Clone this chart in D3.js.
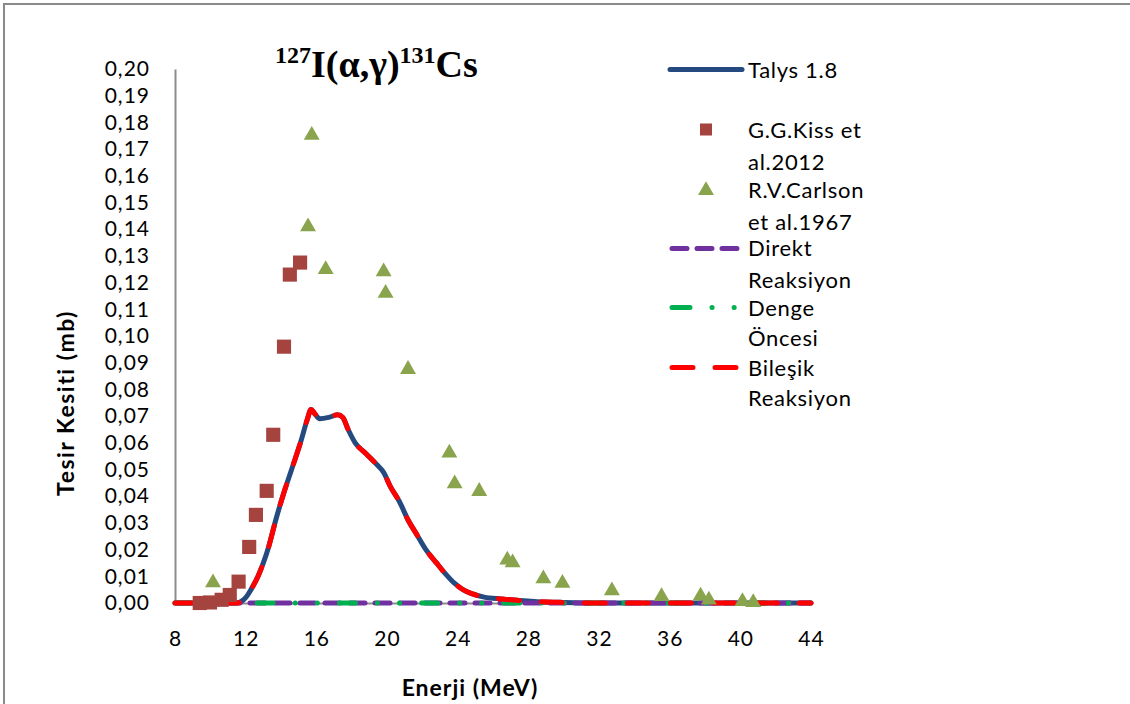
<!DOCTYPE html>
<html>
<head>
<meta charset="utf-8">
<script src="https://cdn.jsdelivr.net/npm/d3@7"></script>
<style>
  body { margin: 0; background: #fff; }
  text { font-family: Lato, "Open Sans", sans-serif; fill: #000; }
</style>
</head>
<body>
<script>
var w = 1130, h = 704;

// Talys 1.8 total cross-section
var talysE = [8, 9, 10, 11, 11.5, 11.8, 12.0, 12.3, 12.7, 13.0, 13.3, 13.7, 14.1, 14.6, 15.1, 15.5, 15.7,
  15.9, 16.2, 16.7, 17.2, 17.5, 17.8, 18.2, 18.8, 19.4, 19.8, 20.2, 20.7, 21.2, 21.7, 22.2, 22.8,
  23.3, 23.8, 24.3, 24.8, 25.5, 26.5, 27.5, 28.5, 30, 32, 36, 40, 44];
var talysS = [0, 0, 0, 0, 0, 0.0008, 0.002, 0.005, 0.010, 0.015, 0.021, 0.031, 0.040, 0.050, 0.060, 0.069, 0.0725,
  0.071, 0.069, 0.0695, 0.0705, 0.0695, 0.065, 0.060, 0.056, 0.052, 0.049, 0.0435, 0.038, 0.031, 0.0255, 0.020, 0.015,
  0.011, 0.0075, 0.005, 0.0035, 0.0022, 0.0015, 0.0009, 0.0005, 0.0002, 0, 0, 0, 0];

// Bileşik reaksiyon follows the Talys curve
var bilesikE = talysE;
var bilesikS = talysS;

var direktE = [8, 12, 16, 20, 24, 28, 32, 36, 40, 44];
var direktS = [0, 0, 0, 0, 0, 0, 0, 0, 0, 0];
var dengeE = [8, 12, 16, 20, 24, 28, 32, 36, 40, 44];
var dengeS = [0, 0, 0, 0, 0, 0, 0, 0, 0, 0];

// G.G.Kiss et al. 2012
var kissE = [9.4, 9.98, 10.64, 11.1, 11.6, 12.2, 12.58, 13.19, 13.56, 14.17, 14.5, 15.08];
var kissS = [0.0, 0.0002, 0.0012, 0.003, 0.008, 0.021, 0.033, 0.042, 0.063, 0.096, 0.123, 0.1275];

// R.V.Carlson et al. 1967
var carlsonE = [10.15, 15.53, 15.74, 16.53, 19.81, 19.92, 21.19, 23.53, 23.83, 25.22, 26.81, 27.11,
  28.85, 29.93, 32.73, 35.54, 37.75, 38.22, 40.12, 40.73];
var carlsonS = [0.008, 0.1413, 0.1756, 0.1253, 0.1245, 0.1164, 0.0879, 0.0566, 0.0451, 0.0422, 0.0165, 0.0155,
  0.0095, 0.0078, 0.005, 0.0028, 0.003, 0.0015, 0.001, 0.0006];

var xTicks = [8, 12, 16, 20, 24, 28, 32, 36, 40, 44];
var yTicks = d3.range(0, 21).map(function(i) { return i / 100; });

var legendLines = [
  ['Talys 1.8'],
  ['G.G.Kiss et', 'al.2012'],
  ['R.V.Carlson', 'et al.1967'],
  ['Direkt', 'Reaksiyon'],
  ['Denge', 'Öncesi'],
  ['Bileşik', 'Reaksiyon']
];

var navy = '#254a7f', red = '#ff0000', purple = '#7030a0', green = '#00b050',
    sqCol = '#a5443f', triCol = '#89a44c', axisCol = '#8c8c8c';

var svg = d3.select('body').append('svg')
  .attr('width', w)
  .attr('height', h);

// outer frame
svg.append('path')
  .attr('d', 'M4,704V4H1130')
  .attr('fill', 'none')
  .attr('stroke', '#8a8a8a')
  .attr('stroke-width', 2);

var x = d3.scaleLinear().domain([8, 44]).range([175, 811]);
var y = d3.scaleLinear().domain([0, 0.2]).range([603, 69]);

var fmt = function(d) { return d3.format('.2f')(d).replace('.', ','); };

var yAxis = svg.append('g')
  .attr('transform', 'translate(175,0)')
  .call(d3.axisLeft(y).tickValues(yTicks).tickSize(0).tickPadding(25).tickFormat(fmt));
var xAxis = svg.append('g')
  .attr('transform', 'translate(0,603)')
  .call(d3.axisBottom(x).tickValues(xTicks).tickSize(0).tickPadding(28));

[yAxis, xAxis].forEach(function(a) {
  a.select('.domain').attr('stroke', axisCol).attr('stroke-width', 2);
  a.selectAll('text').style('font-family', 'Lato, sans-serif').style('font-size', '21px')
    .style('letter-spacing', '1px');
});

var line = d3.line()
  .x(function(d) { return x(d[0]); })
  .y(function(d) { return y(d[1]); })
  .curve(d3.curveMonotoneX);

function pairs(a, b) { return a.map(function(v, i) { return [v, b[i]]; }); }

svg.append('path').datum(pairs(talysE, talysS))
  .attr('d', line).attr('fill', 'none').attr('stroke', navy).attr('stroke-width', 5)
  .attr('stroke-linejoin', 'round');
svg.append('path').datum(pairs(direktE, direktS))
  .attr('d', line).attr('fill', 'none').attr('stroke', purple).attr('stroke-width', 5)
  .attr('stroke-linecap', 'round').attr('stroke-dasharray', '15,10');
svg.append('path').datum(pairs(dengeE, dengeS))
  .attr('d', line).attr('fill', 'none').attr('stroke', green).attr('stroke-width', 5)
  .attr('stroke-linecap', 'round').attr('stroke-dasharray', '16,22,0.1,22,0.1,22');
svg.append('path').datum(pairs(bilesikE, bilesikS))
  .attr('d', line).attr('fill', 'none').attr('stroke', red).attr('stroke-width', 5)
  .attr('stroke-linecap', 'round').attr('stroke-dasharray', '21,22');

var square = d3.symbol().type(d3.symbolSquare).size(200);
var triangle = d3.symbol().type(d3.symbolTriangle).size(110);

svg.append('g').selectAll('path')
  .data(pairs(kissE, kissS))
  .enter().append('path')
  .attr('d', square)
  .attr('transform', function(d) { return 'translate(' + [x(d[0]), y(d[1])] + ')'; })
  .attr('fill', sqCol);

svg.append('g').selectAll('path')
  .data(pairs(carlsonE, carlsonS))
  .enter().append('path')
  .attr('d', triangle)
  .attr('transform', function(d) { return 'translate(' + [x(d[0]), y(d[1]) + 1] + ')'; })
  .attr('fill', triCol);

// title
var title = svg.append('text')
  .attr('x', 275).attr('y', 77)
  .style('font-family', '"Liberation Serif", "Times New Roman", serif')
  .style('font-weight', 'bold')
  .style('font-size', '38px');
title.append('tspan').text('127').style('font-size', '24px').attr('dy', -14);
title.append('tspan').text('I(α,γ)').attr('dy', 14);
title.append('tspan').text('131').style('font-size', '24px').attr('dy', -14);
title.append('tspan').text('Cs').attr('dy', 14);

// axis titles
svg.append('text')
  .attr('transform', 'translate(74,403) rotate(-90)')
  .attr('text-anchor', 'middle')
  .style('font-weight', 'bold')
  .style('font-size', '23px')
  .style('letter-spacing', '1.5px')
  .text('Tesir Kesiti (mb)');
svg.append('text')
  .attr('x', 470).attr('y', 696)
  .attr('text-anchor', 'middle')
  .style('font-weight', 'bold')
  .style('font-size', '23px')
  .style('letter-spacing', '1px')
  .text('Enerji (MeV)');

// legend
var lineY = [69.5, 129.5, 189.5, 248.5, 307.5, 367.5];
var textY = [[70], [130, 162], [190, 222], [248, 280], [308, 338], [368, 398]];
var lg = svg.append('g');

lg.append('line').attr('x1', 670).attr('x2', 742).attr('y1', lineY[0]).attr('y2', lineY[0])
  .attr('stroke', navy).attr('stroke-width', 5).attr('stroke-linecap', 'round');
lg.append('path').attr('d', square)
  .attr('fill', sqCol).attr('transform', 'translate(706,' + lineY[1] + ') scale(0.85)');
lg.append('path').attr('d', triangle).attr('transform', 'translate(706,' + (lineY[2] + 1) + ')')
  .attr('fill', triCol);
lg.append('line').attr('x1', 672).attr('x2', 742).attr('y1', lineY[3]).attr('y2', lineY[3])
  .attr('stroke', purple).attr('stroke-width', 5).attr('stroke-linecap', 'round')
  .attr('stroke-dasharray', '15,10');
lg.append('line').attr('x1', 672).attr('x2', 742).attr('y1', lineY[4]).attr('y2', lineY[4])
  .attr('stroke', green).attr('stroke-width', 5).attr('stroke-linecap', 'round')
  .attr('stroke-dasharray', '18,22,0.1,22,0.1,22');
lg.append('line').attr('x1', 672).attr('x2', 742).attr('y1', lineY[5]).attr('y2', lineY[5])
  .attr('stroke', red).attr('stroke-width', 5).attr('stroke-linecap', 'round')
  .attr('stroke-dasharray', '21,22');

legendLines.forEach(function(ls, i) {
  ls.forEach(function(t, j) {
    lg.append('text')
      .attr('x', 748).attr('y', textY[i][j])
      .attr('dy', '0.35em')
      .style('font-size', '22px')
      .style('letter-spacing', '0.7px')
      .text(t);
  });
});
</script>
</body>
</html>
